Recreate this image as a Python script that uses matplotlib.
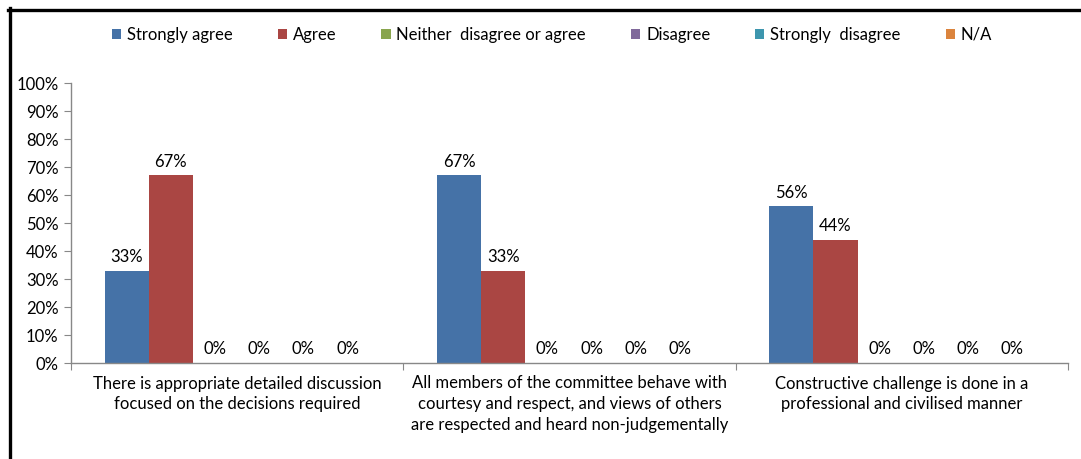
import matplotlib
matplotlib.use("Agg")
import matplotlib.pyplot as plt
from matplotlib.lines import Line2D
import numpy as np

plt.rcParams['font.family'] = ['Lato', 'DejaVu Sans']

categories = [
    "There is appropriate detailed discussion\nfocused on the decisions required",
    "All members of the committee behave with\ncourtesy and respect, and views of others\nare respected and heard non-judgementally",
    "Constructive challenge is done in a\nprofessional and civilised manner",
]
series_names = ["Strongly agree", "Agree", "Neither  disagree or agree",
                "Disagree", "Strongly  disagree", "N/A"]
strongly_agree = [33, 67, 56]
agree = [67, 33, 44]
neither = [0, 0, 0]
disagree = [0, 0, 0]
strongly_disagree = [0, 0, 0]
na = [0, 0, 0]
series_values = [strongly_agree, agree, neither, disagree, strongly_disagree, na]
colors = ["#4572A7", "#AA4643", "#89A54E", "#80699B", "#3D96AE", "#DB843D"]
yticks = list(range(0, 101, 10))

W, H = 1081, 459
fig = plt.figure(figsize=(W / 100, H / 100), dpi=100)
ax = fig.add_axes([71 / W, 96 / H, (1068 - 71) / W, 280 / H])

x = np.arange(len(categories))
bw = 44 / 331
fs = 12
for i, (name, vals, c) in enumerate(zip(series_names, series_values, colors)):
    pos = x + (i - 2.5) * bw
    ax.bar(pos, vals, width=bw, color=c, label=name, edgecolor='none')
    for xp, v in zip(pos, vals):
        ax.annotate(f"{v}%", (xp, v), xytext=(0, 4), textcoords='offset points',
                    ha='center', va='bottom', fontsize=fs, color='black')

ax.set_xlim(-0.5, 2.5)
ax.set_ylim(0, 100)
ax.set_yticks(yticks)
ax.set_yticklabels([f"{t}%" for t in yticks], fontsize=fs)
ax.set_xticks([-0.5, 0.5, 1.5, 2.5])
ax.set_xticklabels([])
ax.set_xticks(x, minor=True)
ax.set_xticklabels(categories, minor=True, fontsize=fs, linespacing=1.38)
ax.tick_params(axis='x', which='minor', length=0, pad=9)
ax.tick_params(axis='x', which='major', length=5, color='#888888', direction='out')
ax.tick_params(axis='y', length=5, color='#888888', direction='out', pad=4)
for s in ['top', 'right']:
    ax.spines[s].set_visible(False)
for s in ['left', 'bottom']:
    ax.spines[s].set_color('#888888')
    ax.spines[s].set_linewidth(1)

leg = fig.legend(loc='center', bbox_to_anchor=(552 / W, 1 - 35 / H), ncol=6,
                 frameon=False, fontsize=fs, handlelength=0.55, handleheight=0.55,
                 handletextpad=0.35, columnspacing=2.7)

# black frame lines (top and left)
fig.add_artist(Line2D([8 / W, 1], [1 - 9.5 / H, 1 - 9.5 / H], color='black', lw=2.4,
                      transform=fig.transFigure))
fig.add_artist(Line2D([9.5 / W, 9.5 / W], [0, 1 - 8 / H], color='black', lw=2.4,
                      transform=fig.transFigure))

fig.savefig("out.png", dpi=100)
